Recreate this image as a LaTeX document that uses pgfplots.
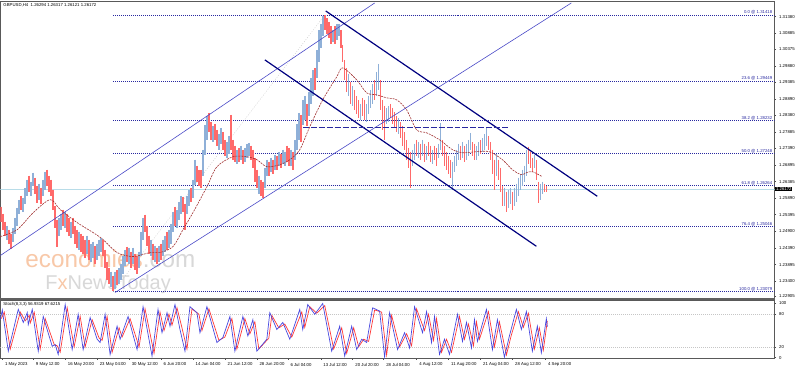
\documentclass[border=0pt]{standalone}
\usepackage{pgfplots}
\pgfplotsset{compat=1.18}
\usepackage{pgfplotstable}
\usepackage{fontspec}
\setmainfont{Liberation Sans}
\definecolor{upc}{HTML}{8FB0D8}
\definecolor{dnc}{HTML}{FF6A6A}
\definecolor{fibc}{HTML}{2828A0}
\definecolor{ascc}{HTML}{4A4AC8}
\definecolor{navyc}{HTML}{000080}
\definecolor{mac}{HTML}{A03030}
\definecolor{stb}{HTML}{4848E0}
\definecolor{str}{HTML}{FF3838}
\definecolor{curc}{HTML}{B8DCE8}
\definecolor{wmo}{HTML}{F8C8A8}
\definecolor{wmg}{HTML}{D8D8D8}
\newcommand\tf{\fontsize{4.3}{5}\selectfont}

% up candles: x, top (high, pixel), bottom (low, pixel)
\pgfplotstableread{
x a b
7 226 240
13 228 242
15 218 234
17 208 226
19 200 214
23 198 212
25 188 204
27 180 196
31 182 196
33 173 186
39 184 200
43 180 196
45 172 190
59 218 236
61 214 230
65 212 228
71 222 238
79 232 250
87 236 254
91 244 262
93 242 258
97 244 260
99 240 256
101 238 252
111 272 288
115 272 290
119 268 284
121 264 280
123 256 274
125 250 266
129 248 264
133 248 264
139 252 268
141 232 256
143 218 240
151 240 256
155 246 262
159 246 262
163 240 256
165 236 252
169 230 248
171 224 244
173 212 232
177 210 228
179 202 220
181 196 214
187 196 214
189 190 206
193 180 198
195 160 185
203 150 176
205 125 155
207 116 140
213 126 142
219 134 150
221 128 144
227 142 158
229 136 154
237 150 164
241 146 160
245 148 162
247 144 158
249 143 156
259 176 194
265 168 188
267 160 176
271 158 172
275 155 170
279 152 166
283 150 164
285 152 166
291 150 166
295 140 160
297 124 150
299 113 140
303 100 125
305 96 120
309 92 116
311 78 104
313 70 96
317 50 78
319 30 62
321 24 48
323 16 36
333 30 42
337 24 40
339 24 36
349 74 96
353 86 106
361 104 120
367 104 122
369 96 114
371 90 108
373 84 104
377 72 96
379 64 90
387 108 124
389 106 122
399 118 134
413 150 166
415 144 160
419 142 158
423 140 156
427 146 160
433 150 164
439 144 158
441 123 150
453 162 190
455 156 172
457 150 166
459 144 160
463 142 158
467 144 160
469 140 156
471 133 150
477 146 160
479 142 156
483 138 152
485 134 150
487 128 146
497 154 176
505 188 206
509 190 208
511 188 204
515 188 206
517 184 202
519 178 196
521 174 190
523 170 186
525 166 182
527 150 176
535 155 168
541 184 200
543 182 194
}\up

% down candles
\pgfplotstableread{
x a b
1 207 222
3 214 230
5 222 236
9 230 244
11 234 249
21 196 210
29 176 192
35 178 194
37 186 203
41 188 204
47 170 186
49 176 192
51 180 196
53 190 210
55 206 228
57 220 247
63 210 226
67 214 232
69 218 236
73 218 234
75 226 244
77 230 248
81 234 252
83 236 254
85 240 258
89 240 260
95 246 264
103 240 256
105 250 268
107 262 280
109 268 284
113 276 292
117 270 286
127 247 262
131 252 268
135 254 270
137 256 274
145 215 232
147 226 246
149 236 254
153 244 260
157 248 264
161 244 260
167 232 250
175 207 226
183 197 212
185 204 230
191 188 202
197 166 182
199 170 186
201 170 188
209 113 132
211 122 140
215 124 140
217 130 146
223 132 150
225 140 156
231 115 150
233 140 160
235 146 162
239 148 162
243 150 164
251 146 160
253 150 168
255 158 182
257 170 188
261 180 196
263 182 198
269 162 176
273 160 174
277 156 170
281 154 168
287 146 162
289 148 166
293 152 170
301 115 142
307 104 126
315 68 90
325 15 30
327 18 34
329 22 38
331 26 44
335 26 44
341 30 48
343 45 62
345 60 80
347 68 92
351 82 104
355 90 110
357 96 114
359 100 118
363 98 116
365 100 120
375 80 100
381 80 110
383 100 130
385 106 140
391 104 118
393 108 124
395 112 128
397 116 132
401 122 138
403 126 146
405 132 150
407 140 160
409 148 168
411 152 188
417 140 156
421 144 160
425 144 162
429 142 156
431 146 162
435 146 160
437 148 166
443 140 156
445 146 166
447 152 170
449 156 174
451 160 178
461 146 160
465 146 162
473 142 156
475 144 160
481 140 154
489 136 150
491 142 160
493 150 174
495 160 190
499 160 180
501 168 192
503 186 206
507 192 212
513 192 210
529 147 164
531 152 168
533 158 172
537 160 180
539 182 203
545 184 192
547 186 192
}\down

\begin{document}
\begin{tikzpicture}[x=1pt,y=1pt]
\fill[white] (0,0) rectangle (798,372);
% watermark
\node[inner sep=0pt, anchor=base west, font=\fontsize{24.3}{25}\selectfont] at (25,104) {\textcolor{wmo}{economies}\textcolor{wmg}{.com}};
\node[inner sep=0pt, anchor=base west, font=\fontsize{20}{21}\selectfont] at (45,82) {\textcolor{wmg}{F}\textcolor{wmo}{x}\textcolor{wmg}{NewsToday}};

\begin{axis}[
  at={(0pt,73pt)}, anchor=south west, scale only axis,
  width=775.7pt, height=298pt,
  xmin=0, xmax=775.7, ymin=1, ymax=299, y dir=reverse,
  xtick=\empty,
  ytick={16.7,33,49.3,66,82.3,99,115.7,132,148.5,165,182,198.7,215,231.3,248.3,265,281.7,296.7},
  yticklabels={1.31380,1.30885,1.30375,1.29880,1.29385,1.28890,1.28380,1.27885,1.27390,1.26895,1.26385,1.25890,1.25395,1.24900,1.24390,1.23895,1.23400,1.22905},
  ytick pos=right, tick align=outside, major tick length=1.5pt,
  yticklabel style={font=\tf, anchor=west, xshift=-0.5pt},
  tick style={gray!60!black, line width=0.4pt},
  axis line style={gray!70!black, line width=0.6pt},
  clip=true,
]
% current price line
\addplot[curc, line width=0.6pt] coordinates {(0,189.3) (775.7,189.3)};
% fibonacci levels
\foreach \lv in {15,81,121,153.7,186,226.7,292.3}{
  \edef\tmp{\noexpand\addplot[fibc, line width=0.6pt, dash pattern=on 1pt off 1pt] coordinates {(113,\lv) (775.7,\lv)};}
  \tmp
}
\addplot[gray!40, line width=0.4pt, dash pattern=on 1pt off 1.5pt] coordinates {(113,292.3) (325,15)};
% candles
\addplot[draw=none, mark=none, error bars/.cd, y dir=plus, y explicit, error mark=none,
  error bar style={line width=1.6pt, draw=upc, solid}]
  table[x=x, y=a, y error expr=\thisrow{b}-\thisrow{a}] {\up};
\addplot[draw=none, mark=none, error bars/.cd, y dir=plus, y explicit, error mark=none,
  error bar style={line width=1.6pt, draw=dnc, solid}]
  table[x=x, y=a, y error expr=\thisrow{b}-\thisrow{a}] {\down};
% moving average
\addplot[mac, line width=0.6pt, dash pattern=on 2pt off 1pt, smooth] coordinates {
(0,237) (17,230) (33,213) (50,200) (60,210) (77,223) (93,233) (103,240) (117,253) (133,257) (150,253) (160,253) (173,247) (183,230) (193,213) (207,187) (217,167) (233,157) (247,157) (257,160) (267,167) (280,165) (290,160) (300,150) (310,127) (323,100) (337,77) (343,68) (357,80) (367,93) (377,95) (387,98) (397,100) (407,110) (417,130) (427,133) (440,140) (453,150) (463,153) (477,152) (490,152) (503,160) (513,170) (522,175) (527,173) (533,172) (543,177)};
% ascending channel
\addplot[ascc, line width=0.6pt] coordinates {(0,256) (375,3)};
\addplot[ascc, line width=0.6pt] coordinates {(115,293) (572,3)};
% descending channel
\addplot[navyc, line width=1.2pt] coordinates {(326,11) (598,196.6)};
\addplot[navyc, line width=1.2pt] coordinates {(265,60) (537,246.7)};
% horizontal dashed
\addplot[fibc, line width=0.8pt, dash pattern=on 6pt off 2pt] coordinates {(303,127.3) (510,127.3)};
% fib labels
\node[font=\tf, text=fibc, anchor=south east, inner sep=0.5pt] at (axis cs:774,15) {0.0 @ 1.31418};
\node[font=\tf, text=fibc, anchor=south east, inner sep=0.5pt] at (axis cs:774,81) {23.6 @ 1.29449};
\node[font=\tf, text=fibc, anchor=south east, inner sep=0.5pt] at (axis cs:774,121) {38.2 @ 1.28232};
\node[font=\tf, text=fibc, anchor=south east, inner sep=0.5pt] at (axis cs:774,153.7) {50.0 @ 1.27248};
\node[font=\tf, text=fibc, anchor=south east, inner sep=0.5pt] at (axis cs:774,186) {61.8 @ 1.26264};
\node[font=\tf, text=fibc, anchor=south east, inner sep=0.5pt] at (axis cs:774,226.7) {76.4 @ 1.25046};
\node[font=\tf, text=fibc, anchor=south east, inner sep=0.5pt] at (axis cs:774,292.3) {100.0 @ 1.23079};
\end{axis}

% separator
\fill[gray!75!black] (0,70.5) rectangle (776.5,73.5);

\begin{axis}[
  at={(0pt,13pt)}, anchor=south west, scale only axis,
  width=775.7pt, height=58pt,
  xmin=0, xmax=775.7, ymin=-1.3, ymax=105.5,
  ytick={0,20,80,100}, yticklabels={0,20,80,100},
  ytick pos=right, xtick pos=bottom, tick align=outside, major tick length=1.5pt,
  yticklabel style={font=\tf, anchor=west, xshift=-0.5pt},
  xtick={2,33,65,97,129,161,193,225,257,288,321,353,384,417,449,481,513,546},
  xticklabels={1 May 2023,9 May 12:00,16 May 20:00,23 May 04:00,30 May 12:00,6 Jun 20:00,14 Jun 04:00,21 Jun 12:00,28 Jun 20:00,6 Jul 04:00,13 Jul 12:00,20 Jul 20:00,28 Jul 04:00,4 Aug 12:00,11 Aug 20:00,21 Aug 04:00,28 Aug 12:00,4 Sep 20:00},
  xticklabel style={font=\tf, anchor=north west, xshift=-0.8pt, yshift=0.5pt},
  tick style={gray!60!black, line width=0.4pt},
  axis line style={gray!70!black, line width=0.6pt},
]
\addplot[gray!45, line width=0.4pt, dash pattern=on 1pt off 1pt] coordinates {(0,80) (775.7,80)};
\addplot[gray!45, line width=0.4pt, dash pattern=on 1pt off 1pt] coordinates {(0,20) (775.7,20)};
% signal line
\addplot[str, line width=0.7pt] coordinates {
(1,72) (4,84) (10,16) (20,84) (25,68) (29,78) (30,64) (34,84) (40,16) (45,72) (54,24) (57,22) (60,10) (67,92) (74,20) (80,76) (85,20) (92,70) (99,36) (102,32) (107,76) (112,10) (119,55) (122,38) (130,72) (139,20) (145,90) (154,8) (160,84) (164,50) (169,80) (172,60) (177,92) (182,55) (187,16) (192,90) (199,80) (202,50) (209,90) (219,32) (225,38) (232,72) (237,16) (245,72) (250,44) (255,66) (259,16) (269,36) (272,78) (279,55) (285,62) (292,38) (302,84) (305,56) (310,94) (317,82) (325,96) (334,16) (342,55) (347,8) (354,55) (359,20) (364,34) (369,30) (375,88) (382,84) (387,5) (392,78) (400,20) (407,44) (412,22) (417,90) (425,50) (429,80) (434,32) (437,72) (442,10) (447,34) (452,10) (460,76) (465,34) (469,62) (474,22) (477,66) (480,34) (489,85) (495,20) (500,66) (507,5) (512,42) (519,85) (524,56) (529,82) (535,16) (540,55) (544,14) (548,68)};
% main line
\addplot[stb, line width=0.7pt] coordinates {
(0,70) (2,88) (8,12) (18,89) (23,65) (27,83) (28,61) (32,89) (38,12) (43,76) (52,21) (55,24) (58,6) (65,98) (72,15) (78,80) (83,15) (90,74) (97,34) (100,28) (105,80) (110,6) (117,58) (120,34) (128,76) (137,15) (143,94) (152,3) (158,89) (162,46) (167,83) (170,58) (175,98) (180,52) (185,12) (190,94) (197,83) (200,46) (207,94) (217,28) (223,37) (230,76) (235,12) (243,76) (248,40) (253,70) (257,12) (267,34) (270,83) (277,52) (283,65) (290,34) (300,89) (303,52) (308,98) (315,80) (323,100) (332,12) (340,58) (345,3) (352,58) (357,15) (362,34) (367,28) (373,92) (380,86) (385,1) (390,83) (398,15) (405,46) (410,18) (415,94) (423,46) (427,85) (432,28) (435,76) (440,6) (445,34) (450,6) (458,80) (463,30) (467,65) (472,18) (475,70) (478,30) (487,89) (493,15) (498,70) (505,1) (510,40) (517,89) (522,52) (527,85) (533,12) (538,58) (542,9) (547,72) (548,57)};
\end{axis}

% header texts
\node[font=\tf, anchor=west, inner sep=0pt] at (3,366.5) {GBPUSD,H4\ \ 1.26294 1.26317 1.26121 1.26172};
\node[font=\tf, anchor=west, inner sep=0pt] at (3,67.5) {Stoch(8,3,3) 56.9319 67.6215};
% current price box
\node[font=\tf, fill=black, text=white, anchor=west, inner sep=0.7pt] at (776.2,182.7) {1.26172};
\end{tikzpicture}
\end{document}
